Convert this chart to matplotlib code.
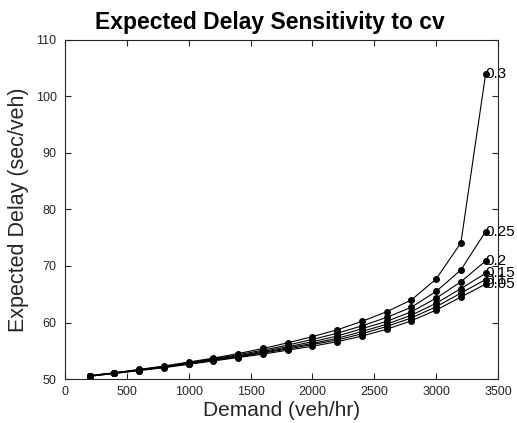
import matplotlib
matplotlib.use("Agg")
import matplotlib.pyplot as plt

plt.rcParams['font.family'] = ['Liberation Sans', 'DejaVu Sans']

demand = [200, 400, 600, 800, 1000, 1200, 1400, 1600, 1800, 2000,
          2200, 2400, 2600, 2800, 3000, 3200, 3400]
cv_labels = ['0.05', '0.1', '0.15', '0.2', '0.25', '0.3']

delay_005 = [50.5, 51.0, 51.5, 52.0, 52.6, 53.2, 53.8, 54.4, 55.1, 55.8,
             56.6, 57.6, 58.8, 60.3, 62.2, 64.5, 66.8]
delay_010 = [50.5, 51.0, 51.5, 52.1, 52.7, 53.3, 53.9, 54.6, 55.3, 56.1,
             56.9, 58.0, 59.3, 60.8, 62.8, 65.2, 67.6]
delay_015 = [50.5, 51.0, 51.6, 52.1, 52.7, 53.4, 54.0, 54.7, 55.5, 56.3,
             57.2, 58.4, 59.7, 61.3, 63.4, 66.0, 68.7]
delay_020 = [50.5, 51.1, 51.6, 52.2, 52.8, 53.5, 54.1, 54.9, 55.7, 56.6,
             57.6, 58.9, 60.2, 61.9, 64.3, 67.2, 70.9]
delay_025 = [50.6, 51.1, 51.6, 52.2, 52.9, 53.6, 54.3, 55.1, 56.0, 57.0,
             58.1, 59.4, 60.9, 62.7, 65.5, 69.3, 76.1]
delay_030 = [50.6, 51.1, 51.7, 52.3, 53.0, 53.7, 54.5, 55.4, 56.4, 57.5,
             58.7, 60.2, 61.9, 64.0, 67.7, 74.1, 104.0]

series = [delay_005, delay_010, delay_015, delay_020, delay_025, delay_030]

fig = plt.figure(figsize=(5.17, 4.23), dpi=100)
ax = fig.add_axes([65/517, 1-379/423, (498-65)/517, (379-40)/423])

for vals, lab in zip(series, cv_labels):
    ax.plot(demand, vals, color='black', linewidth=0.8, marker='o',
            markersize=4, markerfacecolor='black', markeredgecolor='black')
    ax.text(demand[-1], vals[-1], lab, ha='left', va='center', fontsize=11,
            color='black', clip_on=False)

ax.set_xlim(0, 3500)
ax.set_ylim(50, 110)
ax.set_xticks(range(0, 3501, 500))
ax.set_yticks(range(50, 111, 10))

gray = '#262626'
for sp in ax.spines.values():
    sp.set_color(gray)
    sp.set_linewidth(0.8)
ax.tick_params(direction='in', length=4, width=0.8, colors=gray,
               labelsize=9, top=True, right=True)
ax.tick_params(axis='x', pad=5)
ax.tick_params(axis='y', pad=6)

ax.set_xlabel('Demand (veh/hr)', fontsize=15, color=gray, labelpad=2)
ax.set_ylabel('Expected Delay (sec/veh)', fontsize=15.5, color=gray)
ax.yaxis.set_label_coords(-0.082, 0.5)
ax.set_title('Expected Delay Sensitivity to cv', fontsize=16.5,
             fontweight='bold', color='black', pad=8, x=0.473)

fig.savefig('out.png', dpi=100)
